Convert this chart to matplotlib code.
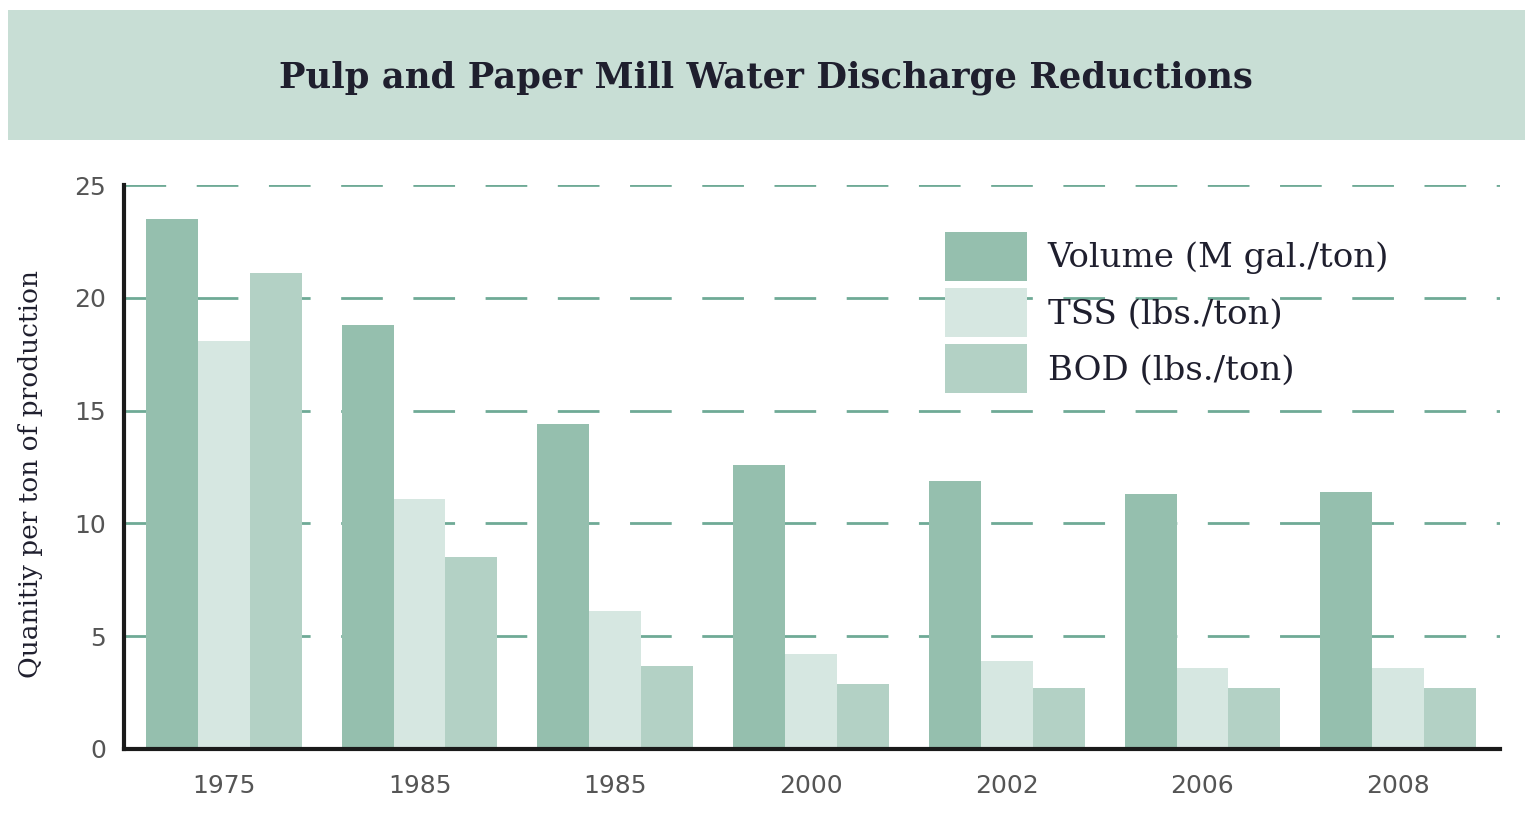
import numpy as np
import matplotlib.pyplot as plt
from matplotlib.patches import Rectangle

years = ["1975", "1985", "1985", "2000", "2002", "2006", "2008"]
volume = [23.5, 18.8, 14.4, 12.6, 11.9, 11.3, 11.4]
tss = [18.1, 11.1, 6.1, 4.2, 3.9, 3.6, 3.6]
bod = [21.1, 8.5, 3.7, 2.9, 2.7, 2.7, 2.7]
labels = ["Volume (M gal./ton)", "TSS (lbs./ton)", "BOD (lbs./ton)"]
colors = ["#95bfae", "#d6e7e1", "#b3d1c5"]

serif = ["DejaVu Serif"]

fig = plt.figure(figsize=(15.25, 8.32), dpi=100)

# title band
fig.patches.append(Rectangle((0.0052, 0.8317), 0.9948, 0.1563, transform=fig.transFigure,
                             facecolor="#c8ded5", edgecolor="none", zorder=0))
fig.text(0.502, 0.907, "Pulp and Paper Mill Water Discharge Reductions",
         ha="center", va="center", fontsize=25.5, fontweight="bold",
         family=serif, color="#1f1f2e")

ax = fig.add_axes([0.0813, 0.0998, 0.9023, 0.6778])

x = np.arange(len(years))
w = 0.265
for i, (vals, lab, c) in enumerate(zip([volume, tss, bod], labels, colors)):
    ax.bar(x + (i - 1) * w, vals, width=w, color=c, label=lab, zorder=3)

ax.set_ylim(0, 25)
ax.set_xlim(-0.51, 6.52)
ax.set_yticks([0, 5, 10, 15, 20, 25])
ax.set_xticks(x)
ax.set_xticklabels(years)
ax.yaxis.grid(True, color="#6faa96", linestyle=(0, (15, 11)), linewidth=2, zorder=1)
ax.set_axisbelow(True)

for s in ["top", "right"]:
    ax.spines[s].set_visible(False)
for s in ["left", "bottom"]:
    ax.spines[s].set_linewidth(3)
    ax.spines[s].set_color("#1a1a1a")
    ax.spines[s].set_zorder(4)

ax.tick_params(length=0, labelsize=18, labelcolor="#555555")
ax.tick_params(axis="x", pad=18)
ax.tick_params(axis="y", pad=13)

fig.text(0.02, 0.43, "Quanitiy per ton of production", rotation=90,
         ha="center", va="center", fontsize=19, family=serif, color="#1f1f2e")

leg = ax.legend(loc="upper left", bbox_to_anchor=(945 / 1525, 1 - 232 / 832),
                bbox_transform=fig.transFigure, frameon=False, fontsize=24.5,
                handlelength=2.4, handleheight=1.82, labelspacing=0.22,
                handletextpad=0.62, borderpad=0, borderaxespad=0)
for t in leg.get_texts():
    t.set_family(serif)
    t.set_color("#1f1f2e")

fig.savefig("out.png", dpi=100)
